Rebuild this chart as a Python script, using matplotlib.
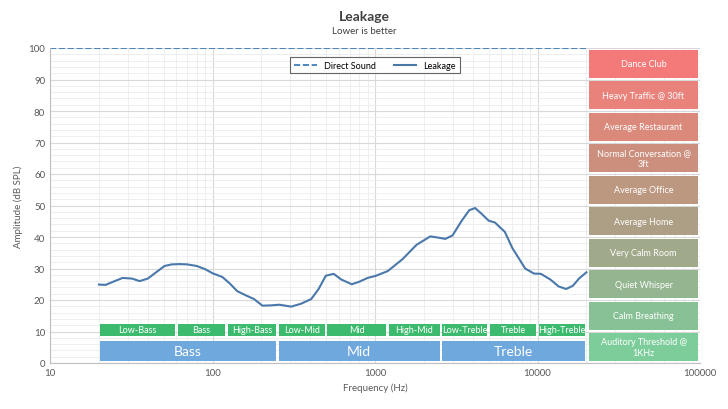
import numpy as np
import matplotlib.pyplot as plt
from matplotlib.ticker import FixedLocator, NullFormatter

plt.rcParams['font.family'] = 'Lato'

# leakage curve
freq = [20, 22, 25, 28, 32, 35.6, 40, 45, 50.7, 56, 62.6, 70, 80, 90, 100, 115, 128, 142,
        160, 180, 203, 230, 258, 305, 350, 405, 450, 498, 557, 620, 720, 800, 900, 1015,
        1200, 1480, 1800, 2190, 2450, 2710, 3000, 3400, 3800, 4130, 4500, 5000, 5470,
        6300, 7000, 8400, 9500, 10500, 12000, 13500, 15000, 16500, 18000, 20000]
leak = [24.9, 24.8, 26.0, 27.0, 26.8, 26.0, 26.8, 28.8, 30.8, 31.3, 31.4, 31.3, 30.8, 29.8,
        28.5, 27.3, 25.2, 22.8, 21.5, 20.3, 18.2, 18.3, 18.5, 17.9, 18.8, 20.3, 23.5, 27.7,
        28.3, 26.5, 25.0, 25.8, 27.0, 27.7, 29.2, 33.0, 37.5, 40.2, 39.8, 39.4, 40.5, 45.0,
        48.5, 49.2, 47.5, 45.2, 44.6, 41.6, 36.5, 30.0, 28.4, 28.3, 26.5, 24.3, 23.5, 24.5,
        26.8, 28.8]

direct_level = 100

sub_bands = ['Low-Bass', 'Bass', 'High-Bass', 'Low-Mid', 'Mid', 'High-Mid',
             'Low-Treble', 'Treble', 'High-Treble']
sub_edges = [20, 60, 122, 250, 500, 1200, 2550, 5000, 10000, 20000]
main_bands = ['Bass', 'Mid', 'Treble']
main_edges = [20, 250, 2550, 20000]

ref_labels = ['Dance Club', 'Heavy Traffic @ 30ft', 'Average Restaurant',
              'Normal Conversation @\n3ft', 'Average Office', 'Average Home',
              'Very Calm Room', 'Quiet Whisper', 'Calm Breathing',
              'Auditory Threshold @\n1KHz']
ref_colors = ['#f47a7a', '#e8827a', '#db897b', '#cc8f7d', '#bd9881', '#ad9f85',
              '#a0a98a', '#93b58f', '#87c195', '#7dcd9b']

fig = plt.figure(figsize=(7.28, 4.1), dpi=100)
ax = fig.add_axes([50 / 728, 1 - 364 / 410, 650 / 728, 315 / 410])
ax.set_xscale('log')
ax.set_xlim(10, 100000)
ax.set_ylim(0, 100)

ax.grid(True, which='major', color='#d9d9d9', linewidth=0.8)
ax.grid(True, which='minor', color='#ececec', linewidth=0.6)
ax.yaxis.set_major_locator(FixedLocator(range(0, 101, 10)))
ax.yaxis.set_minor_locator(FixedLocator(range(0, 101, 2)))
ax.xaxis.set_minor_formatter(NullFormatter())
ax.set_xticks([10, 100, 1000, 10000, 100000])
ax.set_xticklabels(['10', '100', '1000', '10000', '100000'])
ax.tick_params(which='both', length=0, labelsize=7, colors='#595959')
for s in ax.spines.values():
    s.set_visible(False)
ax.spines['bottom'].set_visible(True)
ax.spines['left'].set_visible(True)
ax.spines['bottom'].set_color('#bfbfbf')
ax.spines['left'].set_color('#bfbfbf')

ax.plot([10, 20000], [direct_level, direct_level], '--', color='#2e75b6', lw=1.2,
        label='Direct Sound')
ax.plot(freq, leak, color='#4a78ab', lw=1.5, label='Leakage')

# band boxes
for i, name in enumerate(sub_bands):
    a, b = sub_edges[i] * 1.02, sub_edges[i + 1] / 1.02
    ax.fill_between([a, b], 8.6, 12.4, color='#3cba6e', lw=0, zorder=3)
    ax.text(np.sqrt(a * b), 10.5, name, ha='center', va='center', color='white',
            fontsize=6.5, zorder=4)
for i, name in enumerate(main_bands):
    a, b = main_edges[i] * 1.02, main_edges[i + 1] / 1.02
    ax.fill_between([a, b], 0.7, 7, color='#6fa8dc', lw=0, zorder=3)
    ax.text(np.sqrt(a * b), 3.9, name, ha='center', va='center', color='white',
            fontsize=10, zorder=4)

# reference panel on the right
for i, (lab, col) in enumerate(zip(ref_labels, ref_colors)):
    top = 100 - i * 10
    ax.fill_between([20800, 97000], top - 9.5, top - 0.5, color=col, lw=0, zorder=3)
    ax.text(np.sqrt(20800 * 97000), top - 5, lab, ha='center', va='center',
            color='white', fontsize=6.5, zorder=4, linespacing=1.3)

leg = ax.legend(loc='upper center', bbox_to_anchor=(0.5, 0.985), ncol=2, fontsize=6.5,
                frameon=True, fancybox=False, edgecolor='#404040', handlelength=2.5,
                borderpad=0.4)
leg.get_frame().set_linewidth(0.8)

ax.set_xlabel('Frequency (Hz)', fontsize=7, color='#595959')
ax.set_ylabel('Amplitude (dB SPL)', fontsize=7, color='#595959')
fig.text(0.5, 1 - 17 / 410, 'Leakage', ha='center', va='center', fontsize=10,
         fontweight='bold', color='#404040')
fig.text(0.5, 1 - 31 / 410, 'Lower is better', ha='center', va='center', fontsize=7,
         color='#404040')

fig.savefig('out.png', dpi=100)
